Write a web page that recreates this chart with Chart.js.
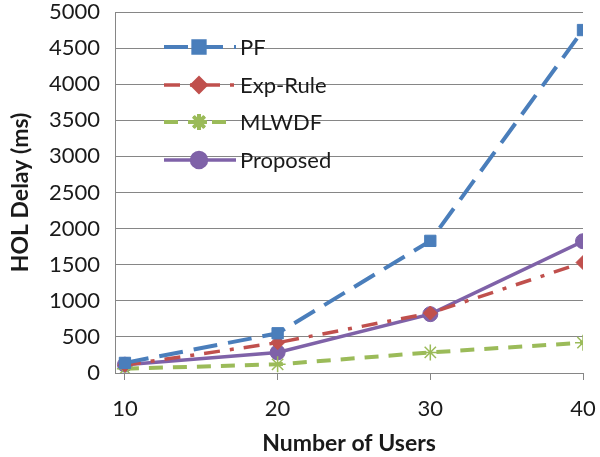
<!DOCTYPE html>
<html>
<head>
<meta charset="utf-8">
<script src="https://cdn.jsdelivr.net/npm/chart.js@4/dist/chart.umd.min.js"></script>
<style>
  html, body { margin: 0; padding: 0; background: #fff; }
  #wrap { width: 600px; height: 457px; position: relative; }
</style>
</head>
<body>
<div id="wrap"><canvas id="chart"></canvas></div>
<script>
(function() {
'use strict';

const users = [10, 20, 30, 40];
const yTicks = [0, 500, 1000, 1500, 2000, 2500, 3000, 3500, 4000, 4500, 5000];

const pf       = [140, 550, 1830, 4750];
const expRule  = [110, 420, 830, 1530];
const mlwdf    = [60, 120, 285, 420];
const proposed = [115, 285, 815, 1825];

const FONT = 'Lato, "Open Sans", sans-serif';

function pts(vals) {
  return vals.map((v, i) => ({ x: users[i], y: v }));
}

// legend drawn inside the plot, line sample + marker + label
const insideLegend = {
  id: 'insideLegend',
  afterDatasetsDraw(chart) {
    const ctx = chart.ctx;
    const rows = [47, 85, 122, 160];
    chart.data.datasets.forEach((ds, i) => {
      const y = rows[i];
      ctx.save();
      ctx.strokeStyle = ds.borderColor;
      ctx.lineWidth = ds.borderWidth;
      ctx.setLineDash(ds.borderDash || []);
      ctx.beginPath();
      ctx.moveTo(164, y);
      ctx.lineTo(236, y);
      ctx.stroke();
      ctx.setLineDash([]);
      Chart.helpers.drawPoint(ctx, {
        pointStyle: ds.pointStyle,
        radius: ds.pointRadius,
        borderWidth: ds.pointBorderWidth || 1,
        rotation: 0
      }, 199, y);
      ctx.fillStyle = ds.pointBackgroundColor;
      ctx.strokeStyle = ds.pointBorderColor;
      ctx.lineWidth = ds.pointBorderWidth || 1;
      if (ds.pointStyle !== 'star') ctx.fill();
      ctx.stroke();
      ctx.fillStyle = '#1a1a1a';
      ctx.font = '22px ' + FONT;
      ctx.textBaseline = 'middle';
      ctx.fillText(ds.label, 240, y + 1);
      ctx.restore();
    });
  }
};

new Chart(document.getElementById('chart'), {
  type: 'line',
  data: {
    datasets: [
      {
        label: 'PF',
        data: pts(pf),
        borderColor: '#4a7ebb',
        borderWidth: 4,
        borderDash: [24, 11],
        pointStyle: 'rect',
        pointRadius: 8,
        pointBackgroundColor: '#4a7ebb',
        pointBorderColor: '#4a7ebb',
        pointBorderWidth: 1
      },
      {
        label: 'Exp-Rule',
        data: pts(expRule),
        borderColor: '#c0504d',
        borderWidth: 3.5,
        borderDash: [16, 10, 4, 10],
        pointStyle: 'rectRot',
        pointRadius: 7,
        pointBackgroundColor: '#c0504d',
        pointBorderColor: '#c0504d',
        pointBorderWidth: 1
      },
      {
        label: 'MLWDF',
        data: pts(mlwdf),
        borderColor: '#9bbb59',
        borderWidth: 4,
        borderDash: [14, 10],
        pointStyle: 'star',
        pointRadius: 8,
        pointBackgroundColor: '#9bbb59',
        pointBorderColor: '#9bbb59',
        pointBorderWidth: 1.5
      },
      {
        label: 'Proposed',
        data: pts(proposed),
        borderColor: '#7f62a8',
        borderWidth: 3.5,
        pointStyle: 'circle',
        pointRadius: 7.5,
        pointBackgroundColor: '#7f62a8',
        pointBorderColor: '#7f62a8',
        pointBorderWidth: 1
      }
    ]
  },
  options: {
    responsive: true,
    maintainAspectRatio: false,
    animation: false,
    layout: { padding: { top: 12, right: 17, left: 0, bottom: 0 } },
    plugins: {
      legend: { display: false },
      tooltip: { enabled: false }
    },
    scales: {
      x: {
        type: 'linear',
        min: 9.35,
        max: 40,
        afterBuildTicks: axis => { axis.ticks = users.map(v => ({ value: v })); },
        afterFit: axis => { axis.height = 84; axis.paddingLeft = 0; axis.paddingRight = 0; },
        ticks: { color: '#1a1a1a', font: { size: 22, family: FONT }, padding: 16, maxRotation: 0,
                 callback: v => String(v) },
        grid: { drawOnChartArea: false, drawTicks: true, tickLength: 7, color: '#868686' },
        border: { color: '#868686' },
        title: {
          display: true,
          text: 'Number of Users',
          color: '#1a1a1a',
          font: { size: 23, weight: 'bold', family: FONT },
          padding: { top: 0, bottom: 0 }
        }
      },
      y: {
        min: 0,
        max: 5000,
        afterBuildTicks: axis => { axis.ticks = yTicks.map(v => ({ value: v })); },
        afterFit: axis => { axis.width = 115; axis.paddingTop = 0; axis.paddingBottom = 0; },
        ticks: { color: '#1a1a1a', font: { size: 22, family: FONT }, padding: 15,
                 callback: v => String(v) },
        grid: { color: '#868686', lineWidth: 1, drawTicks: false },
        border: { color: '#868686' },
        title: {
          display: true,
          text: 'HOL Delay (ms)',
          color: '#1a1a1a',
          font: { size: 23, weight: 'bold', family: FONT },
          padding: { top: 7, bottom: 0 }
        }
      }
    }
  },
  plugins: [insideLegend]
});

})();
</script>
</body>
</html>
